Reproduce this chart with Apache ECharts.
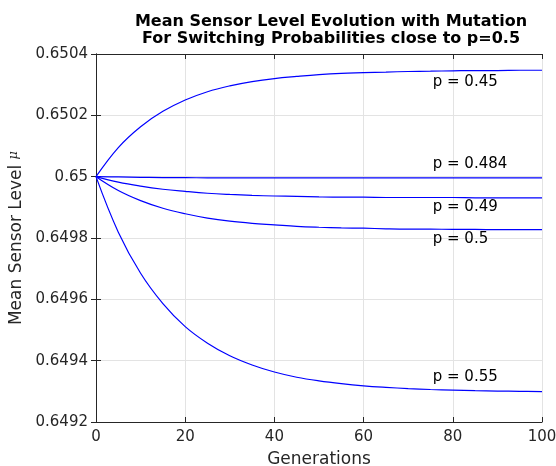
<!DOCTYPE html>
<html><head><meta charset="utf-8">
<script src="https://cdn.jsdelivr.net/npm/echarts@6/dist/echarts.min.js"></script>
<style>html,body{margin:0;padding:0;background:#fff}#c{width:556px;height:466px}</style>
</head><body><div id="c"></div>
<script>
const generations = [0,5,10,15,20,25,30,35,40,45,50,55,60,65,70,75,80,85,90,95,100];
const p045 = [0.65,0.650095,0.650163,0.650213,0.650250,0.650277,0.650296,0.650310,0.650320,0.650327,0.650333,0.650337,0.650339,0.650341,0.650343,0.650344,0.650345,0.650346,0.650346,0.650347,0.650347];
const p0484 = [0.65,0.649999,0.649998,0.649997,0.649997,0.649996,0.649996,0.649996,0.649996,0.649996,0.649996,0.649996,0.649996,0.649996,0.649996,0.649996,0.649996,0.649996,0.649996,0.649996,0.649996];
const p049 = [0.65,0.649982,0.649969,0.649959,0.649952,0.649946,0.649942,0.649939,0.649937,0.649936,0.649934,0.649933,0.649933,0.649932,0.649932,0.649932,0.649932,0.649931,0.649931,0.649931,0.649931];
const p05 = [0.65,0.649955,0.649922,0.649897,0.649879,0.649865,0.649855,0.649848,0.649843,0.649838,0.649835,0.649833,0.649832,0.649830,0.649829,0.649829,0.649828,0.649828,0.649827,0.649827,0.649827];
const p055 = [0.65,0.649819,0.649685,0.649586,0.649511,0.649457,0.649416,0.649386,0.649363,0.649346,0.649334,0.649325,0.649318,0.649313,0.649309,0.649306,0.649304,0.649302,0.649301,0.649300,0.649299];
const seriesNames = ['p = 0.45','p = 0.484','p = 0.49','p = 0.5','p = 0.55'];
const seriesData = [p045,p0484,p049,p05,p055];
const labelX = 75.5;
const labelY = [0.650307,0.650042,0.649902,0.649795,0.649348];
const yTicks = {min:0.6492,max:0.6504,interval:0.0002};
const xTicks = {min:0,max:100,interval:20};

const font = 'DejaVu Sans, sans-serif';
const axisCol = '#262626';
const chart = echarts.init(document.getElementById('c'), null, {renderer:'canvas'});
const fmtY = v => parseFloat(v.toFixed(4)).toString();
const baseX = {type:'value', min:xTicks.min, max:xTicks.max, interval:xTicks.interval};
const baseY = {type:'value', min:yTicks.min, max:yTicks.max, interval:yTicks.interval};
chart.setOption({
  animation:false,
  backgroundColor:'#fff',
  title:{
    text:'Mean Sensor Level Evolution with Mutation\nFor Switching Probabilities close to p=0.5',
    left:326, top:8, textAlign:'center',
    textStyle:{fontFamily:font, fontSize:16, fontWeight:'bold', color:'#000', lineHeight:17}
  },
  grid:{left:96, right:14, top:54, bottom:44, outerBoundsMode:'none', containLabel:false},
  xAxis:[
    Object.assign({}, baseX, {
      position:'bottom',
      name:'Generations', nameLocation:'middle', nameGap:29,
      nameTextStyle:{fontFamily:font, fontSize:17, color:axisCol},
      axisLine:{show:true, lineStyle:{color:axisCol, width:1}},
      axisTick:{show:true, inside:true, length:5, lineStyle:{color:axisCol}},
      axisLabel:{fontFamily:font, fontSize:15, color:axisCol, margin:8},
      splitLine:{show:true, lineStyle:{color:'#e3e3e3', width:1}}
    }),
    Object.assign({}, baseX, {
      position:'top',
      axisLine:{show:true, lineStyle:{color:axisCol, width:1}},
      axisTick:{show:true, inside:true, length:5, lineStyle:{color:axisCol}},
      axisLabel:{show:false}, splitLine:{show:false}
    })
  ],
  yAxis:[
    Object.assign({}, baseY, {
      position:'left',
      name:'Mean Sensor Level {mu|μ}', nameLocation:'middle', nameGap:61,
      nameTextStyle:{fontFamily:font, fontSize:17, color:axisCol,
        rich:{mu:{fontFamily:'DejaVu Serif, serif', fontStyle:'italic', fontSize:13, color:axisCol, verticalAlign:'top'}}},
      axisLine:{show:true, lineStyle:{color:axisCol, width:1}},
      axisTick:{show:true, inside:true, length:5, lineStyle:{color:axisCol}},
      axisLabel:{fontFamily:font, fontSize:15, color:axisCol, margin:8, formatter:fmtY},
      splitLine:{show:true, lineStyle:{color:'#e3e3e3', width:1}}
    }),
    Object.assign({}, baseY, {
      position:'right',
      axisLine:{show:true, lineStyle:{color:axisCol, width:1}},
      axisTick:{show:true, inside:true, length:5, lineStyle:{color:axisCol}},
      axisLabel:{show:false}, splitLine:{show:false}
    })
  ],
  series: seriesData.map((d,i)=>({
    type:'line', name:seriesNames[i], xAxisIndex:0, yAxisIndex:0,
    data: generations.map((g,j)=>[g,d[j]]),
    smooth:0.4, showSymbol:false, symbol:'none',
    lineStyle:{color:'#0000ff', width:1.2},
    markPoint:{
      symbol:'circle', symbolSize:0, silent:true,
      data:[{coord:[labelX,labelY[i]], value:seriesNames[i]}],
      label:{show:true, position:'right', distance:0, formatter:seriesNames[i],
        fontFamily:font, fontSize:15, color:'#000'}
    }
  }))
});
</script></body></html>
